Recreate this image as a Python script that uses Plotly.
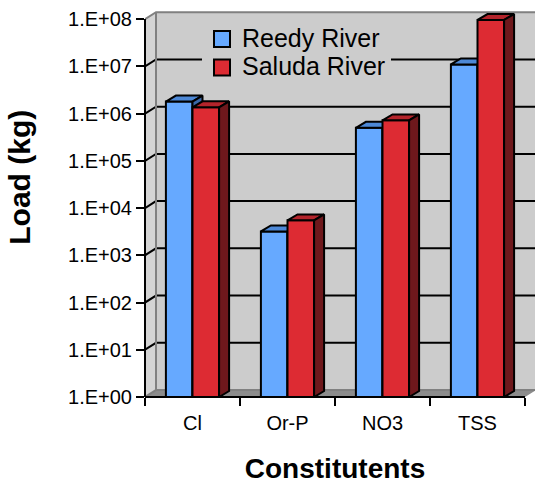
import plotly.graph_objects as go
import math

# ---------------- data ----------------
categories = ["Cl", "Or-P", "NO3", "TSS"]
reedy_river = [1.8e6, 3.2e3, 5.0e5, 1.1e7]
saluda_river = [1.36e6, 5.5e3, 7.2e5, 9.6e7]
tick_exponents = [0, 1, 2, 3, 4, 5, 6, 7, 8]
tick_labels = ["1.E+00", "1.E+01", "1.E+02", "1.E+03", "1.E+04",
               "1.E+05", "1.E+06", "1.E+07", "1.E+08"]
series_names = ["Reedy River", "Saluda River"]
x_title = "Constitutents"
y_title = "Load (kg)"

# ---------------- style / geometry ----------------
FONT = "Arial, Liberation Sans, sans-serif"
W, H = 535, 487
ML, MR, MT, MB = 145, 0, 8, 90
PW, PH = W - ML - MR, H - MT - MB
PX_CAT = 95.0      # pixels per category
PX_DEC = 47.6      # pixels per decade
n_cat = len(categories)
n_dec = tick_exponents[-1] - tick_exponents[0]

x_lo = -0.5
x_hi_front = n_cat - 0.5
x_range = [x_lo, x_lo + PW / PX_CAT]
y_range = [0, PH / PX_DEC]

wdx, wdy = 11 / PX_CAT, 7 / PX_DEC     # wall depth
bdx, bdy = 10 / PX_CAT, 6 / PX_DEC     # bar depth
bar_w = 0.28

face_colors = {
    "Reedy River": ("#66A9FF", "#4D88D6", "#3A67A8"),
    "Saluda River": ("#DD2B33", "#B3242B", "#6E181C"),
}

fig = go.Figure()

def poly_trace(xs, ys, fill, line_color=None, line_w=0):
    return go.Scatter(
        x=xs, y=ys, mode="lines", fill="toself", fillcolor=fill,
        line=dict(color=line_color or fill, width=line_w),
        hoverinfo="skip", showlegend=False, xaxis="x", yaxis="y")

ytop = tick_exponents[-1]
# left side wall
fig.add_trace(poly_trace([x_lo, x_lo + wdx, x_lo + wdx, x_lo, x_lo],
                         [0, wdy, ytop + wdy, ytop, 0], "#D4D4D4"))
# back wall
fig.add_trace(poly_trace([x_lo + wdx, x_hi_front + wdx, x_hi_front + wdx, x_lo + wdx, x_lo + wdx],
                         [wdy, wdy, ytop + wdy, ytop + wdy, wdy], "#CCCCCC"))
# floor
fig.add_trace(poly_trace([x_lo, x_hi_front, x_hi_front + wdx, x_lo + wdx, x_lo],
                         [0, 0, wdy, wdy, 0], "#8C8C8C"))

# gridlines (front tick -> back wall)
gx, gy = [], []
for k in tick_exponents[1:-1]:
    gx += [x_lo, x_lo + wdx, x_hi_front + wdx, None]
    gy += [k, k + wdy, k + wdy, None]
fig.add_trace(go.Scatter(x=gx, y=gy, mode="lines", line=dict(color="black", width=2),
                         hoverinfo="skip", showlegend=False))

# wall edges
ex = [x_lo, x_lo + wdx, x_hi_front + wdx, None,
      x_lo + wdx, x_lo + wdx, None,
      x_lo, x_lo + wdx, x_hi_front + wdx]
ey = [ytop, ytop + wdy, ytop + wdy, None,
      wdy, ytop + wdy, None,
      0, wdy, wdy]
fig.add_trace(go.Scatter(x=ex, y=ey, mode="lines", line=dict(color="#808080", width=2),
                         hoverinfo="skip", showlegend=False))

# 3D bars
for si, (name, vals) in enumerate(zip(series_names, [reedy_river, saluda_river])):
    front_c, top_c, side_c = face_colors[name]
    fx, fy, tx, ty, sx, sy = [], [], [], [], [], []
    for ci, v in enumerate(vals):
        h = math.log10(v)
        x0 = ci - bar_w + si * bar_w
        x1 = x0 + bar_w
        fx += [x0, x1, x1, x0, x0, None]
        fy += [0, 0, h, h, 0, None]
        tx += [x0, x1, x1 + bdx, x0 + bdx, x0, None]
        ty += [h, h, h + bdy, h + bdy, h, None]
        sx += [x1, x1 + bdx, x1 + bdx, x1, x1, None]
        sy += [0, bdy, h + bdy, h, 0, None]
    fig.add_trace(poly_trace(fx, fy, front_c, "black", 2))
    fig.add_trace(poly_trace(tx, ty, top_c, "black", 2))
    fig.add_trace(poly_trace(sx, sy, side_c, "black", 2))

# legend proxies (on the front axes)
for name in series_names:
    fig.add_trace(go.Scatter(
        x=categories, y=[None] * n_cat, mode="markers",
        name='<span style="font-size:25px">' + name + '</span>',
        marker=dict(symbol="square", size=16, color=face_colors[name][0],
                    line=dict(color="black", width=2)),
        xaxis="x2", yaxis="y2", hoverinfo="skip"))

fig.update_layout(
    width=W, height=H,
    margin=dict(l=ML, r=MR, t=MT, b=MB, pad=0),
    paper_bgcolor="white", plot_bgcolor="rgba(0,0,0,0)",
    font=dict(family=FONT, color="black", size=20),
    hovermode=False,
    showlegend=True,
    legend=dict(x=(202 - ML) / PW, y=1 - (17 - MT) / PH, xanchor="left", yanchor="top",
                bgcolor="#CCCCCC", borderwidth=0, font=dict(size=19.5, family=FONT),
                itemsizing="trace", tracegroupgap=0),
    xaxis=dict(range=x_range, domain=[0, 1], visible=False, fixedrange=True),
    yaxis=dict(range=y_range, domain=[0, 1], visible=False, fixedrange=True),
    xaxis2=dict(type="category", categoryorder="array", categoryarray=categories,
                range=[x_lo, x_hi_front], domain=[0, n_cat * PX_CAT / PW],
                anchor="free", position=0, tickson="boundaries",
                showline=True, linecolor="black", linewidth=2,
                ticks="outside", ticklen=8, tickwidth=2, tickcolor="black",
                showgrid=False, zeroline=False, ticklabelstandoff=8,
                tickfont=dict(size=20, family=FONT),
                title=dict(text="<b>" + x_title + "</b>", font=dict(size=28, family=FONT),
                           standoff=24)),
    yaxis2=dict(range=[tick_exponents[0], tick_exponents[-1]],
                domain=[0, n_dec * PX_DEC / PH],
                anchor="free", position=0,
                tickmode="array", tickvals=tick_exponents, ticktext=tick_labels,
                showline=True, linecolor="black", linewidth=2,
                ticks="outside", ticklen=8, tickwidth=2, tickcolor="black",
                showgrid=False, zeroline=False,
                tickfont=dict(size=20, family=FONT)),
    annotations=[dict(text="<b>" + y_title + "</b>", textangle=-90,
                      xref="paper", yref="paper",
                      x=(20 - ML) / PW, y=1 - (175 - MT) / PH,
                      xanchor="center", yanchor="middle", showarrow=False,
                      font=dict(size=30, family=FONT, color="black"))],
)

fig.write_html("out.html")
